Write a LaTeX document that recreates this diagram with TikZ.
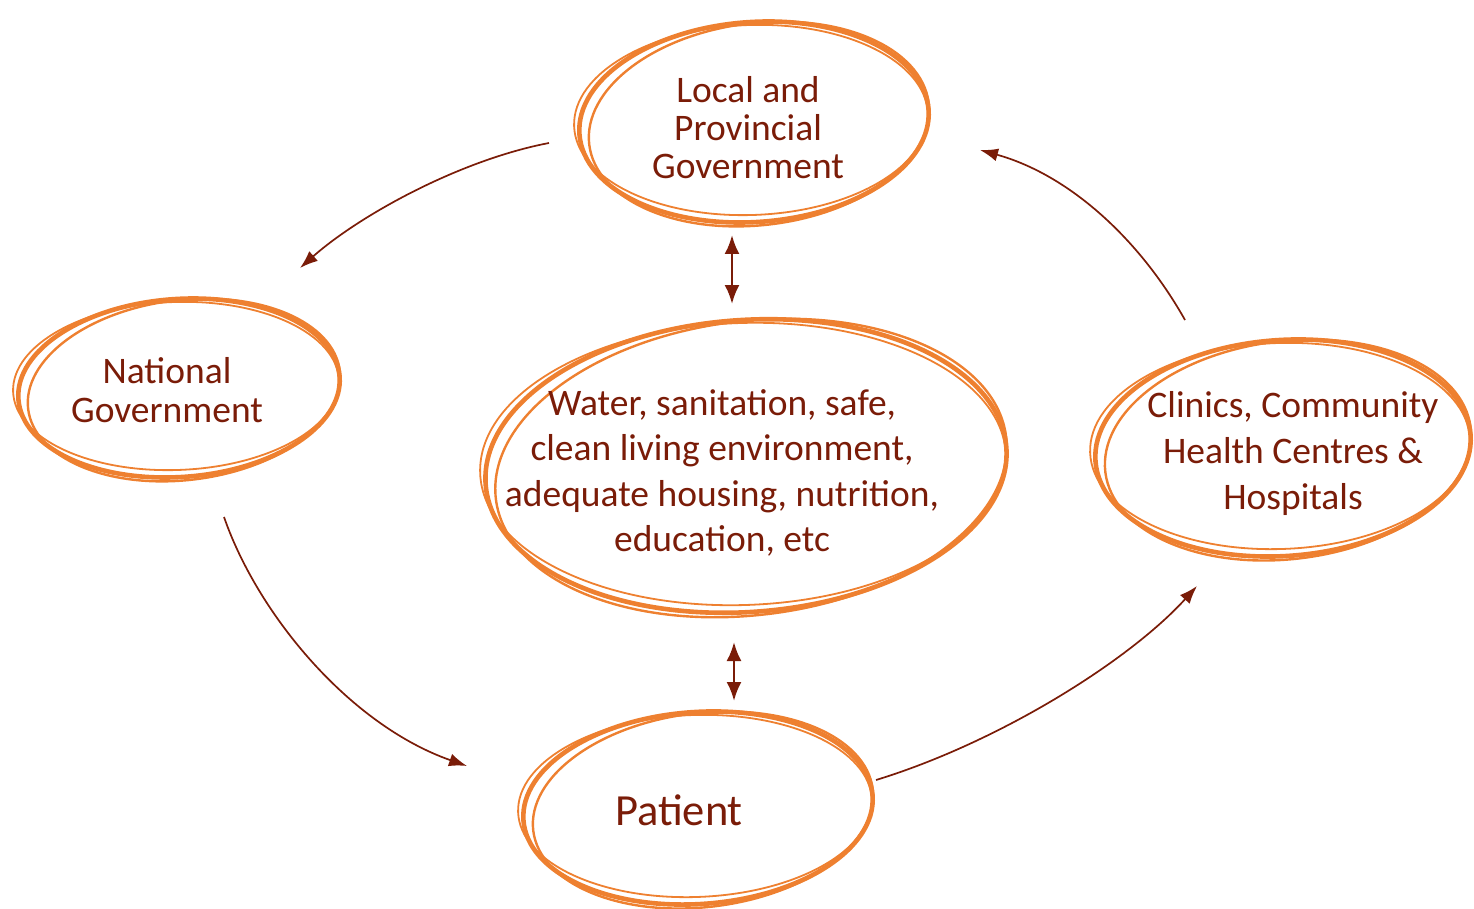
\documentclass[tikz,border=0pt]{standalone}
\usepackage{fontspec}
\setmainfont{Carlito}
\usetikzlibrary{arrows.meta}

\definecolor{ringorange}{RGB}{238,128,48}
\definecolor{darkbrick}{RGB}{122,28,8}

% hand drawn ring: x, y, x radius, y radius, tilt
\newcommand{\sketchring}[5]{%
  \draw[ring] (#1,#2) ellipse [x radius=#3, y radius=#4, rotate=#5];
  \draw[ring, line width=2.4pt] (#1+5,#2+2) ellipse [x radius=#3-4, y radius=#4+1, rotate=#5-3];
  \draw[ring, line width=1.8pt] (#1-3,#2-2) ellipse [x radius=#3+2, y radius=#4-5, rotate=#5+2];
}

\tikzset{
  ring/.style={draw=ringorange, line width=4.6pt},
  label/.style={text=darkbrick, align=center, inner sep=0pt},
  flow/.style={draw=darkbrick, line width=1.7pt, -{Latex[length=18pt,width=13pt]}},
  twoway/.style={draw=darkbrick, line width=2.6pt, {Latex[length=19pt,width=15pt]}-{Latex[length=19pt,width=15pt]}}
}

\begin{document}
\begin{tikzpicture}[x=1pt,y=1pt,yscale=-1]
\useasboundingbox (0,0) rectangle (1474,909);

% rings
\sketchring{754}{122}{175}{100}{-4}
\sketchring{179}{388}{161}{89}{-4}
\sketchring{746}{466}{261}{146}{-4}
\sketchring{1283}{448}{188}{108}{-4}
\sketchring{698}{808}{175}{96}{-4}

% texts
\node[label, font=\fontsize{37.5}{38}\selectfont] (lpg) at (748,128) {Local and\\Provincial\\Government};
\node[label, font=\fontsize{37.5}{39}\selectfont] (nat) at (167,390) {National\\Government};
\node[label, font=\fontsize{37.5}{45.5}\selectfont] (env) at (722,473) {Water, sanitation, safe,\\clean living environment,\\adequate housing, nutrition,\\education, etc};
\node[label, font=\fontsize{37.5}{46}\selectfont] (cli) at (1293,453) {Clinics, Community\\Health Centres \&\\Hospitals};
\node[label, font=\fontsize{44.5}{46}\selectfont] (pat) at (679,810) {Patient};

% connector ends
\coordinate (lpg-w) at (549,143);
\coordinate (nat-n) at (300,268);
\coordinate (nat-s) at (224,517);
\coordinate (pat-w) at (467,766);
\coordinate (pat-e) at (876,780);
\coordinate (cli-s) at (1197,586);
\coordinate (cli-n) at (1185,320);
\coordinate (lpg-e) at (980,150);
\coordinate (lpg-s) at (732,235);
\coordinate (env-n) at (732,304);
\coordinate (env-s) at (734,642);
\coordinate (pat-n) at (734,701);

% flows
\draw[flow] (lpg-w) .. controls (460,160) and (360,215) .. (nat-n);
\draw[flow] (nat-s) .. controls (258,615) and (350,725) .. (pat-w);
\draw[flow] (pat-e) .. controls (1000,742) and (1130,660) .. (cli-s);
\draw[flow] (cli-n) .. controls (1140,240) and (1070,175) .. (lpg-e);
\draw[twoway] (lpg-s) -- (env-n);
\draw[twoway] (env-s) -- (pat-n);

\end{tikzpicture}
\end{document}
